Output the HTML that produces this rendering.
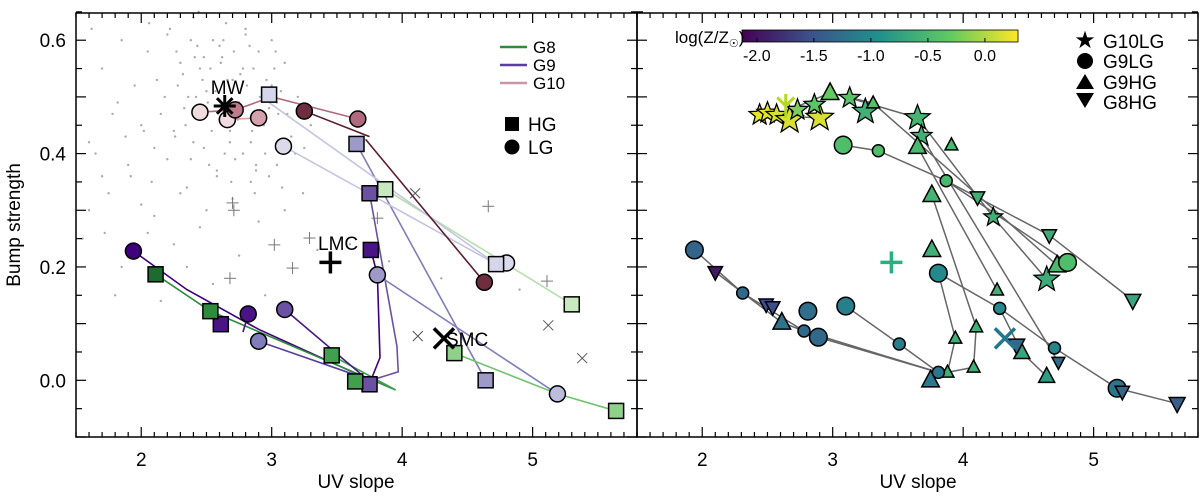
<!DOCTYPE html>
<html><head><meta charset="utf-8"><style>
body{margin:0;background:#fff;}
svg{display:block;font-family:"Liberation Sans",sans-serif;}
</style></head><body>
<svg id="c" width="1200" height="498" xmlns="http://www.w3.org/2000/svg">
<g id="grey"></g>
<g id="lines"></g>
<g id="marks"></g>
<g id="axes"></g>
<text x="20" y="225" font-size="19" text-anchor="middle" transform="rotate(-90 20 225)">Bump strength</text>
<text x="356" y="488" font-size="19" text-anchor="middle">UV slope</text>
<text x="918" y="488" font-size="19" text-anchor="middle">UV slope</text>
<g>
<line x1="500" y1="47" x2="527" y2="47" stroke="#2e8b3e" stroke-width="2.5"/>
<text x="533" y="53" font-size="17">G8</text>
<line x1="500" y1="65" x2="527" y2="65" stroke="#5a3f9a" stroke-width="2.5"/>
<text x="533" y="71" font-size="17">G9</text>
<line x1="500" y1="83" x2="527" y2="83" stroke="#c994a8" stroke-width="2.5"/>
<text x="533" y="89" font-size="17">G10</text>
<rect x="505" y="117" width="14" height="14" fill="#000"/>
<text x="528" y="131" font-size="19">HG</text>
<circle cx="512" cy="147" r="7.5" fill="#000"/>
<text x="528" y="154" font-size="19">LG</text>
</g>
<g>
<text x="1085" y="48" font-size="24" text-anchor="middle">★</text>
<text x="1103" y="48" font-size="19">G10LG</text>
<circle cx="1085" cy="61" r="8" fill="#000"/>
<text x="1103" y="68" font-size="19">G9LG</text>
<polygon points="1085,74 1094,89 1076,89" fill="#000"/>
<text x="1103" y="89" font-size="19">G9HG</text>
<polygon points="1076,93 1094,93 1085,108" fill="#000"/>
<text x="1103" y="109" font-size="19">G8HG</text>
</g>
<defs><linearGradient id="vir" x1="0" x2="1" y1="0" y2="0">
<stop offset="0" stop-color="#440154"/><stop offset="0.25" stop-color="#3b528b"/><stop offset="0.5" stop-color="#21918c"/><stop offset="0.75" stop-color="#5ec962"/><stop offset="1" stop-color="#fde725"/></linearGradient></defs>
<rect x="742" y="30" width="276" height="12" fill="url(#vir)" stroke="#000" stroke-width="0.8"/>
<text x="675" y="43" font-size="17">log(Z/Z<tspan font-size="11" dy="4">☉</tspan><tspan dy="-4">)</tspan></text>
<g id="cbt"></g>
</svg>
<script>
const NS="http://www.w3.org/2000/svg";
const X0=1.5,X1=5.8,Y0=-0.1,Y1=0.648;
const PT=13,PB=437,LL=76,LR=637,RR=1198;
const greyX=[1.62,1.7,1.78,1.85,1.9,1.95,2.0,2.05,2.1,2.12,2.18,2.22,2.25,2.3,2.33,2.38,2.4,2.45,2.5,2.52,2.55,2.6,2.62,2.68,2.7,2.75,2.8,2.85,2.9,2.95,3.0,3.05,3.1,3.15,3.2,3.25,3.3,1.65,1.75,1.82,1.92,2.02,2.08,2.15,2.2,2.28,2.35,2.42,2.48,2.58,2.65,2.72,2.78,2.88,2.98,3.08,3.18,2.0,2.1,2.3,2.5,2.7,2.9,3.1,2.2,2.4,2.6,2.8,3.0,1.6,1.72,1.88,2.06,2.26,2.44,2.64,2.84,3.04,3.24,1.55,1.8,2.15,2.35,2.55,2.75,2.95,3.35,3.45,3.6,2.45,2.25,2.05,1.85,3.9,4.3,4.9,1.6,1.7,
2.32,2.36,2.41,2.47,2.53,2.57,2.61,2.66,2.71,2.76,2.81,2.86,2.91,2.96,3.02,3.07,2.34,2.44,2.54,2.64,2.74,2.84,2.94,3.04,2.38,2.48,2.58,2.68,2.78,2.88,2.98,3.12,2.43,2.63,2.83,3.03,2.51,2.69,2.87,2.27];
const greyY=[0.62,0.55,0.47,0.6,0.38,0.52,0.45,0.58,0.41,0.53,0.5,0.62,0.44,0.56,0.48,0.6,0.42,0.55,0.51,0.38,0.6,0.46,0.57,0.42,0.53,0.49,0.62,0.44,0.58,0.4,0.52,0.47,0.56,0.43,0.5,0.41,0.45,0.4,0.33,0.49,0.36,0.44,0.35,0.47,0.39,0.52,0.34,0.5,0.57,0.36,0.63,0.39,0.55,0.37,0.48,0.34,0.4,0.31,0.29,0.33,0.3,0.32,0.28,0.3,0.61,0.64,0.59,0.61,0.6,0.3,0.26,0.43,0.63,0.43,0.65,0.4,0.35,0.38,0.33,0.25,0.15,0.14,0.2,0.17,0.22,0.15,0.23,0.19,0.24,0.27,0.24,0.26,0.2,0.21,0.18,0.16,0.42,0.36,
0.54,0.5,0.57,0.53,0.55,0.51,0.56,0.53,0.58,0.54,0.52,0.55,0.5,0.53,0.55,0.51,0.45,0.48,0.44,0.5,0.46,0.42,0.45,0.49,0.39,0.41,0.37,0.44,0.4,0.38,0.36,0.47,0.59,0.6,0.59,0.58,0.49,0.35,0.33,0.58];
const plusX=[2.7,3.02,3.29,3.16,2.68,3.81,4.66,5.11,2.71];
const plusY=[0.313,0.239,0.251,0.198,0.18,0.286,0.307,0.175,0.30];
const crossX=[4.10,4.12,5.12,5.38];
const crossY=[0.33,0.078,0.097,0.039];
const lX=[1.94,2.82,3.10,2.90,3.81,5.19,3.09,4.80, 2.61,3.76,3.75,3.75,3.65,4.64,2.98,4.72, 2.11,2.53,3.46,3.64,4.40,5.64,5.30,3.87, 2.45,2.66,2.72,2.90,3.25,3.66,4.63];
const lY=[0.228,0.117,0.125,0.069,0.186,-0.024,0.413,0.207, 0.099,0.230,0.330,-0.007,0.417,0.0,0.504,0.205, 0.187,0.122,0.044,-0.002,0.048,-0.054,0.134,0.337, 0.473,0.46,0.477,0.463,0.475,0.461,0.173];
const lType=["c","c","c","c","c","c","c","c","s","s","s","s","s","s","s","s","s","s","s","s","s","s","s","s","c","c","c","c","c","c","c"];
const lCol=["#3f007d","#4a1486","#6a51a3","#807dba","#9e9ac8","#bcbddc","#dadaeb","#dadaeb","#4a1486","#4a1486","#6a51a3","#6a51a3","#9e9ac8","#9e9ac8","#d6d6ea","#d6d6ea","#1e6b30","#2e8b3e","#41a04e","#41a04e","#8fd18a","#8fd18a","#c7e9c0","#c7e9c0","#f0dce0","#f0dce0","#c07a8c","#d4a0ac","#6e2e40","#b06a80","#6e2e40"];
const lTrX=[[1.94,2.35,2.9,3.76],[2.11,2.53,3.95],[3.46,3.95],[2.90,3.76],[3.10,3.74],[2.82,2.78],[3.76,3.81,3.83,3.76],[3.75,3.96,3.97,3.76],[3.65,4.64],[3.81,5.19],[5.64,5.19,4.40],[5.30,3.87],[4.72,2.98],[4.72,3.09],[4.63,3.72],[3.25,3.75],[2.66,2.9],[2.45,2.72,3.0,3.66]];
const lTrY=[[0.228,0.16,0.09,0.0],[0.187,0.122,-0.017],[0.044,-0.017],[0.069,0.0],[0.125,0.0],[0.117,0.085],[0.23,0.186,0.04,0.0],[0.33,0.06,0.015,0.0],[0.417,0.0],[0.186,-0.024],[-0.054,-0.024,0.048],[0.134,0.337],[0.205,0.49],[0.205,0.413],[0.173,0.425],[0.475,0.43],[0.46,0.463],[0.473,0.477,0.5,0.461]];
const lTrCol=["#3f007d","#2e8b3e","#41a04e","#5a3f9a","#4a1486","#4a1486","#3f007d","#6a51a3","#807dba","#807dba","#6fc46e","#b5e0ae","#c4c4e2","#c4c4e2","#5a1e30","#5a1e30","#d4a0ac","#b06a80"];
const rX=[2.44,2.50,2.57,2.67,2.90,2.73,2.86,3.13,3.25,3.65,3.68,4.23,4.64, 2.98,3.31,3.65,3.91,3.76,4.72,4.26,3.76,2.61,3.75,3.88,3.94,4.10,4.08,4.45,4.64, 3.08,3.35,3.87,4.80,3.81,1.94,2.31,2.81,2.78,2.89,3.10,3.51,3.81,4.28,4.70,5.18, 4.11,4.66,2.10,2.49,2.54,4.41,4.73,5.22,5.64,5.30];
const rY=[0.468,0.472,0.468,0.459,0.463,0.477,0.486,0.498,0.474,0.463,0.431,0.288,0.178, 0.507,0.489,0.412,0.415,0.327,0.203,0.159,0.23,0.102,0.0,0.014,0.074,0.094,0.023,0.049,0.007, 0.415,0.405,0.352,0.208,0.189,0.230,0.154,0.122,0.087,0.076,0.131,0.064,0.014,0.127,0.057,-0.014, 0.323,0.256,0.191,0.134,0.129,0.062,0.032,-0.02,-0.041,0.141];
const rType=["st","st","st","st","st","st","st","st","st","st","st","st","st","t","t","t","t","t","t","t","t","t","t","t","t","t","t","t","t","c","c","c","c","c","c","c","c","c","c","c","c","c","c","c","c","d","d","d","d","d","d","d","d","d","d"];
const rSize=[1,1,1,1.3,1.3,1,1,1,1.2,1.2,1,0.9,1.2, 1.1,0.8,1.1,0.8,1.1,1.1,0.8,1.1,1.1,1.1,0.8,0.8,0.8,0.8,1,1, 1.1,0.75,0.75,1.1,1.1,1.1,0.75,1.1,0.75,1.1,1.1,0.75,0.75,0.75,0.75,1.1, 0.9,0.9,0.9,0.9,0.9,1,0.8,0.9,1,1];
const rZ=[0.2,0.2,0.15,0.15,0.15,-0.2,-0.35,-0.4,-0.6,-0.55,-0.6,-0.6,-0.65, -0.3,-0.4,-0.5,-0.5,-0.55,-0.5,-0.6,-0.6,-1.2,-1.15,-0.6,-0.6,-0.6,-0.6,-0.7,-0.8, -0.45,-0.45,-0.5,-0.45,-1.0,-1.35,-1.3,-1.25,-1.3,-1.3,-1.1,-1.1,-1.2,-1.0,-1.05,-1.2, -0.6,-0.65,-1.95,-1.55,-1.55,-1.3,-1.3,-1.35,-1.4,-0.7];
const rTrX=[[1.94,2.31,2.78,3.81],[2.89,3.81],[3.10,3.51,3.81],[2.10,2.61,2.78],[3.81,3.94,3.88],[3.81,4.28,4.70,5.18,5.64],[4.28,4.45,4.64],[4.10,4.08,3.88],[3.76,4.10],[3.65,4.26],[3.68,4.73],[3.08,3.35,3.87,4.66,5.30],[3.87,4.80],[3.13,3.65,4.23,4.64],[3.31,4.72],[2.44,2.90],[2.57,2.98,3.31]];
const rTrY=[[0.230,0.154,0.087,0.014],[0.076,0.014],[0.131,0.064,0.014],[0.191,0.102,0.087],[0.189,0.074,0.014],[0.189,0.127,0.057,-0.014,-0.041],[0.127,0.049,0.007],[0.094,0.023,0.014],[0.327,0.094],[0.412,0.159],[0.431,0.032],[0.415,0.405,0.352,0.256,0.141],[0.352,0.208],[0.498,0.463,0.288,0.178],[0.489,0.203],[0.468,0.463],[0.468,0.507,0.489]];
const yTicks=[0.0,0.2,0.4,0.6];
const xTicks=[2,3,4,5];
const cbTicks=[-2.0,-1.5,-1.0,-0.5,0.0];
const cbLabels=["-2.0","-1.5","-1.0","-0.5","0.0"];

function sx(v,off){return off+(v-X0)/(X1-X0)*(LR-LL);}
function sy(v){return PB-(v-Y0)/(Y1-Y0)*(PB-PT);}
function el(t,a,p){const e=document.createElementNS(NS,t);for(const k in a)e.setAttribute(k,a[k]);p.appendChild(e);return e;}
const vs=[[68,1,84],[59,82,139],[33,145,140],[94,201,98],[253,231,37]];
function vir(z){let t=(z+2.13)/(0.29+2.13);t=Math.max(0,Math.min(1,t))*4;const i=Math.min(3,Math.floor(t)),f=t-i;const a=vs[i],b=vs[i+1];return "rgb("+a.map((c,k)=>Math.round(c+(b[k]-c)*f)).join(",")+")";}
const G=document.getElementById("grey"),L=document.getElementById("lines"),M=document.getElementById("marks"),A=document.getElementById("axes");
for(let i=0;i<greyX.length;i++){const e=el("circle",{cx:sx(greyX[i],LL),cy:sy(greyY[i]),r:1.2,fill:"#aaa"},G);

}
function plus(x,y,s,col,w,name){const g=el("g",{},M);


el("line",{x1:x-s,y1:y,x2:x+s,y2:y,stroke:col,"stroke-width":w},g);el("line",{x1:x,y1:y-s,x2:x,y2:y+s,stroke:col,"stroke-width":w},g);}
function cross(x,y,s,col,w,name){const g=el("g",{},M);


el("line",{x1:x-s,y1:y-s,x2:x+s,y2:y+s,stroke:col,"stroke-width":w},g);el("line",{x1:x-s,y1:y+s,x2:x+s,y2:y-s,stroke:col,"stroke-width":w},g);}
for(let i=0;i<plusX.length;i++)plus(sx(plusX[i],LL),sy(plusY[i]),6,"#777",1,"lmc-sightline");
for(let i=0;i<crossX.length;i++)cross(sx(crossX[i],LL),sy(crossY[i]),5,"#555",1,"smc-sightline");
for(let i=0;i<lTrX.length;i++){const p=lTrX[i].map((v,k)=>sx(v,LL)+","+sy(lTrY[i][k])).join(" ");
const e=el("polyline",{points:p,fill:"none",stroke:lTrCol[i],"stroke-width":1.6},L);

}
for(let i=0;i<rTrX.length;i++){const p=rTrX[i].map((v,k)=>sx(v,LR)+","+sy(rTrY[i][k])).join(" ");
const e=el("polyline",{points:p,fill:"none",stroke:"#666","stroke-width":1.5},L);

}
for(let i=0;i<lX.length;i++){const x=sx(lX[i],LL),y=sy(lY[i]);let e;
if(lType[i]=="c")e=el("circle",{cx:x,cy:y,r:8,fill:lCol[i],stroke:"#000","stroke-width":1.5},M);
else e=el("rect",{x:x-7.5,y:y-7.5,width:15,height:15,fill:lCol[i],stroke:"#000","stroke-width":1.5},M);

}
function star(x,y,R){let p=[];for(let k=0;k<10;k++){const r=k%2?R*0.42:R,a=-Math.PI/2+k*Math.PI/5;p.push((x+r*Math.cos(a)).toFixed(1)+","+(y+r*Math.sin(a)).toFixed(1));}return p.join(" ");}
for(let i=0;i<rX.length;i++){const x=sx(rX[i],LR),y=sy(rY[i]),s=rSize[i],c=vir(rZ[i]);let e;
if(rType[i]=="c")e=el("circle",{cx:x,cy:y,r:8*s,fill:c,stroke:"#000","stroke-width":1.5},M);
else if(rType[i]=="st")e=el("polygon",{points:star(x,y,11*s),fill:c,stroke:"#000","stroke-width":1.3},M);
else if(rType[i]=="t")e=el("polygon",{points:`${x},${y-9*s} ${x+8*s},${y+6*s} ${x-8*s},${y+6*s}`,fill:c,stroke:"#000","stroke-width":1.5},M);
else e=el("polygon",{points:`${x-8*s},${y-6*s} ${x+8*s},${y-6*s} ${x},${y+9*s}`,fill:c,stroke:"#000","stroke-width":1.5},M);

}
(function(){const x=sx(2.64,LL),y=sy(0.484);const g=el("g",{},M);


for(let k=0;k<4;k++){const a=k*Math.PI/4;el("line",{x1:x-11*Math.cos(a),y1:y-11*Math.sin(a),x2:x+11*Math.cos(a),y2:y+11*Math.sin(a),stroke:"#000","stroke-width":3},g);}
const t=el("text",{x:x-14,y:y-12,"font-size":19},M);t.textContent="MW";


const xr=sx(2.64,LR);const g2=el("g",{},M);


for(const a of [-Math.PI/2,-Math.PI/4,-3*Math.PI/4,Math.PI/2]){el("line",{x1:xr,y1:y,x2:xr+12*Math.cos(a),y2:y+12*Math.sin(a),stroke:"#b5d91f","stroke-width":3},g2);}
})();
plus(sx(3.45,LL),sy(0.208),11,"#000",3.5,"lmc-marker");
plus(sx(3.45,LR),sy(0.208),11,"#2ab07f",3.5,"lmc-marker-right");
cross(sx(4.32,LL),sy(0.074),10,"#000",3.5,"smc-marker");
cross(sx(4.32,LR),sy(0.074),10,"#21778c",3.5,"smc-marker-right");
(function(){let t=el("text",{x:318,y:250,"font-size":19},M);t.textContent="LMC";


t=el("text",{x:446,y:346,"font-size":19},M);t.textContent="SMC";

})();
for(const off of [LL,LR]){const right=off+(LR-LL);
const r=el("rect",{x:off,y:PT,width:LR-LL,height:PB-PT,fill:"none",stroke:"#000","stroke-width":1.5},A);


for(let v=1.5;v<=5.81;v+=0.1){const x=sx(v,off),maj=Math.abs(v-Math.round(v))<0.01,l=maj?10:5;
el("line",{x1:x,y1:PB,x2:x,y2:PB-l,stroke:"#000","stroke-width":1.2},A);el("line",{x1:x,y1:PT,x2:x,y2:PT+l,stroke:"#000","stroke-width":1.2},A);}
for(let v=-0.1;v<=0.65;v+=0.05){const y=sy(v),maj=Math.abs(v*10-Math.round(v*10))<0.01,l=maj?10:6;
el("line",{x1:off,y1:y,x2:off+l,y2:y,stroke:"#000","stroke-width":1.2},A);el("line",{x1:right,y1:y,x2:right-l,y2:y,stroke:"#000","stroke-width":1.2},A);}
for(const t of xTicks){const e=el("text",{x:sx(t,off),y:PB+29,"font-size":19,"text-anchor":"middle"},A);e.textContent=t;

}}
for(const t of yTicks){const e=el("text",{x:LL-10,y:sy(t)+7,"font-size":19,"text-anchor":"end"},A);e.textContent=t.toFixed(1);

}
const CB=document.getElementById("cbt");
for(let i=0;i<cbTicks.length;i++){const x=742+(cbTicks[i]+2.13)/2.42*276;
el("line",{x1:x,y1:42,x2:x,y2:38,stroke:"#000"},CB);
const e=el("text",{x:x,y:61,"font-size":16,"text-anchor":"middle"},CB);e.textContent=cbLabels[i];

}
</script>
</body></html>
